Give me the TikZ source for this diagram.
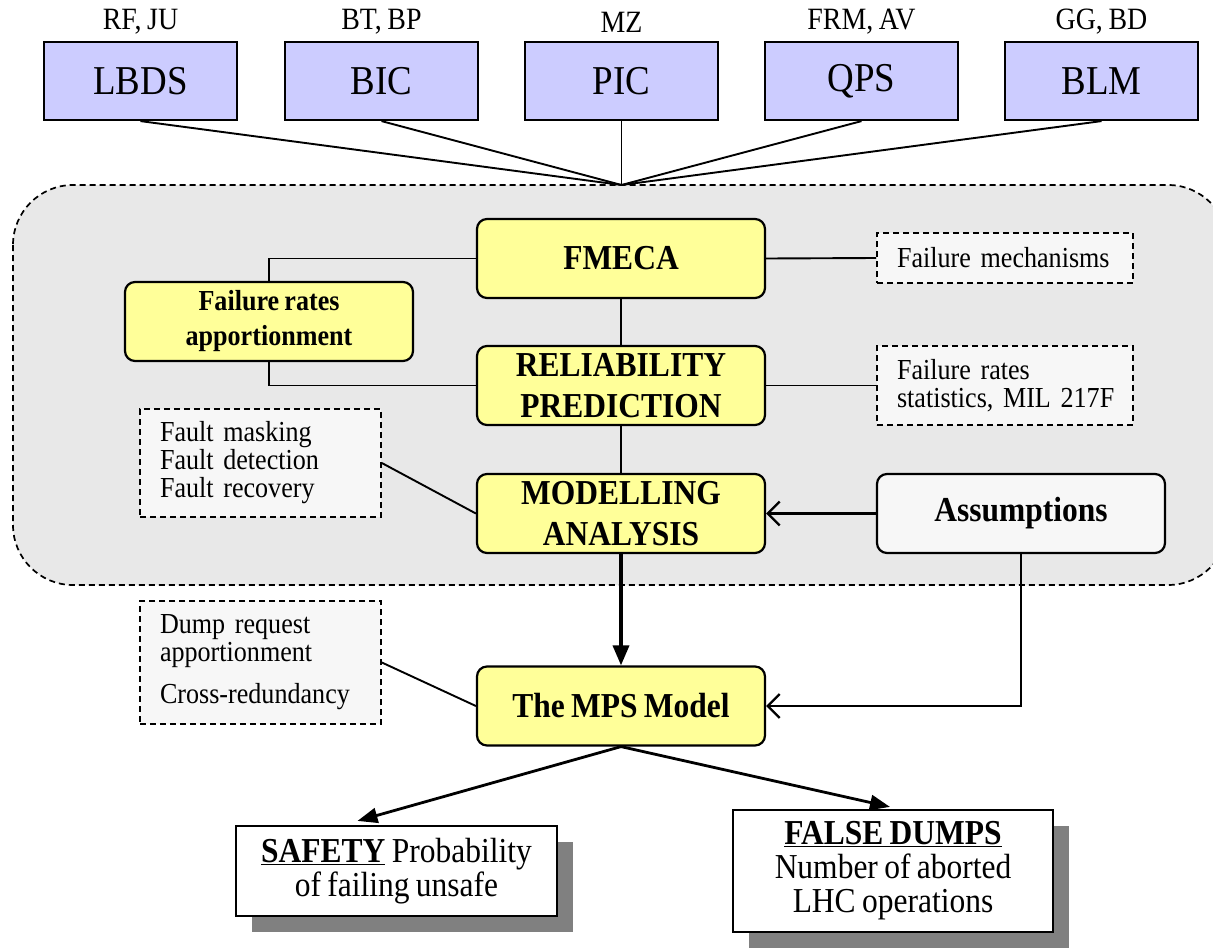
\documentclass[tikz,border=0pt]{standalone}
\usepackage{fontspec}
\setmainfont[FakeStretch=0.9,WordSpace=0.8]{Liberation Serif}
\usetikzlibrary{arrows.meta,calc,shadows}
\definecolor{boxblue}{HTML}{CCCCFF}
\definecolor{boxyellow}{HTML}{FFFF99}
\definecolor{regiongray}{HTML}{E8E8E8}
\definecolor{notegray}{HTML}{F7F7F7}
\definecolor{shadowgray}{HTML}{808080}
\begin{document}
\begin{tikzpicture}[x=1pt,y=-1pt,
  sysbox/.style={draw, line width=2.2pt, fill=boxblue, minimum width=193pt, minimum height=78pt, inner sep=0pt, font=\fontsize{41}{44}\selectfont},
  syslabel/.style={inner sep=0pt, font=\fontsize{31}{34}\selectfont},
  procbox/.style={draw, line width=2.2pt, fill=boxyellow, rounded corners=10pt, minimum width=288pt, minimum height=79pt, inner sep=0pt, align=center, font=\fontsize{35}{41}\selectfont\bfseries},
  notebox/.style={draw, dashed, dash pattern=on 6pt off 4pt, line width=1.7pt, fill=notegray, inner xsep=20pt, inner ysep=0pt, align=left, font=\fontsize{29}{28}\selectfont},
  resultbox/.style={draw, line width=2.2pt, fill=white, inner sep=0pt, align=center, font=\fontsize{35}{34}\selectfont,
    drop shadow={shadow xshift=16pt, shadow yshift=-16pt, fill=shadowgray, opacity=1}},
  link/.style={line width=1.9pt},
  openarrow/.style={line width=2.3pt, -{Straight Barb[length=12pt,width=24pt,line width=2.3pt]}},
  thickarrow/.style={line width=3.5pt, -{Triangle[length=20pt,width=16pt]}},
  fillarrow/.style={line width=2.8pt, -{Triangle[length=20pt,width=15pt]}}
]
\useasboundingbox (0,0) rectangle (1213,950);
% region
\draw[dashed, dash pattern=on 6pt off 4pt, line width=1.7pt, fill=regiongray, rounded corners=60pt] (13,185) rectangle (1228,585);

% top systems
\node[sysbox] (lbds) at (140.5,81) {LBDS};
\node[sysbox] (bic) at (381.5,81) {BIC};
\node[sysbox] (pic) at (621.5,81) {PIC};
\node[sysbox] (qps) at (861.5,81) {QPS};
\node[sysbox] (blm) at (1101.5,81) {BLM};
\node[syslabel] (lbl1) at (140.5,22) {RF, JU};
\node[syslabel] (lbl2) at (381.5,22) {BT, BP};
\node[syslabel] (lbl3) at (621.5,22) {MZ};
\node[syslabel] (lbl4) at (861.5,22) {FRM, AV};
\node[syslabel] (lbl5) at (1101.5,22) {GG, BD};
\coordinate (hub) at (621.5,185);
\foreach \n in {lbds,bic,pic,qps,blm} \draw[link] (\n.south) -- (hub);

% process boxes
\node[procbox] (fmeca) at (621,258.5) {FMECA};
\node[procbox, minimum width=288pt, font=\fontsize{29}{35}\selectfont\bfseries] (fr) at (269,321.5) {Failure rates\\apportionment};
\node[procbox] (rel) at (621,385.5) {RELIABILITY\\PREDICTION};
\node[procbox] (mod) at (621,513.5) {MODELLING\\ANALYSIS};
\node[procbox] (mps) at (621,706) {The MPS Model};
\node[procbox, fill=notegray] (assump) at (1021,513.5) {Assumptions};

% notes
\node[notebox, minimum width=256pt, minimum height=50pt, text width=216pt] (fmnote) at (1005,258) {Failure mechanisms};
\node[notebox, minimum width=256pt, minimum height=79pt, text width=216pt] (frnote) at (1005,385.5) {Failure rates\\statistics,~MIL~217F};
\node[notebox, minimum width=241pt, minimum height=108pt, text width=201pt] (faultnote) at (260.5,463) {Fault masking\\Fault detection\\Fault recovery};
\node[notebox, minimum width=241pt, minimum height=123pt, text width=201pt] (dumpnote) at (260.5,662.5) {Dump request\\apportionment\\[14pt]Cross-redundancy};

% results
\node[resultbox, minimum width=321pt, minimum height=90pt] (safety) at (396.5,871) {\underline{\textbf{SAFETY}} Probability\\of failing unsafe};
\node[resultbox, minimum width=320pt, minimum height=122pt] (falsed) at (893,871) {\underline{\textbf{FALSE DUMPS}}\\Number of aborted\\LHC operations};

% connectors
\draw[link] (fmeca.west) -| (fr.north);
\draw[link] (fr.south) |- (rel.west);
\draw[link] (fmeca.south) -- (rel.north);
\draw[link] (rel.south) -- (mod.north);
\draw[link] (fmeca.east) -- (fmnote.west);
\draw[link] (rel.east) -- (frnote.west);
\draw[link] (faultnote.east) -- (mod.west);
\draw[link] (dumpnote.east) -- (mps.west);
\draw[openarrow] (assump.west) -- (mod.east);
\draw[openarrow] (assump.south) |- (mps.east);
\draw[thickarrow] (mod.south) -- (mps.north);
\draw[fillarrow] (mps.south) -- ([xshift=-39pt,yshift=4pt]safety.north);
\draw[fillarrow] (mps.south) -- ([xshift=-3pt,yshift=2pt]falsed.north);
\end{tikzpicture}
\end{document}
